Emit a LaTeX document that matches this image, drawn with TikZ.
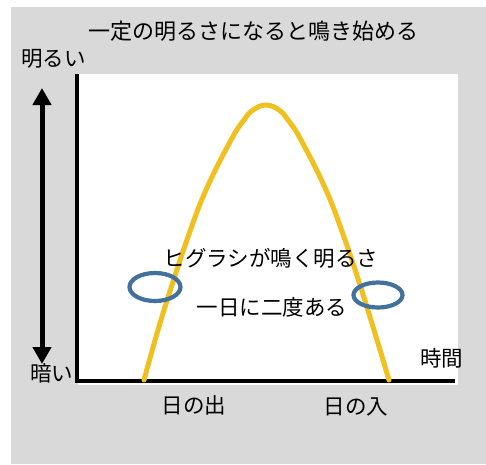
\documentclass[tikz,border=0pt]{standalone}
\usepackage{fontspec}
\setmainfont{Noto Sans CJK JP}
\usetikzlibrary{arrows.meta}
\definecolor{bg}{RGB}{217,217,217}
\definecolor{sun}{RGB}{240,192,32}
\definecolor{ring}{RGB}{65,113,156}
\tikzset{
  lbl/.style={inner sep=0pt, font=\fontsize{21.5}{25}\selectfont, text=black},
  ttl/.style={inner sep=0pt, font=\fontsize{22}{26}\selectfont, text=black},
  axisline/.style={line width=4.5pt, black},
  mark ring/.style={draw=ring, line width=4.2pt},
}
\begin{document}
\begin{tikzpicture}[x=1pt,y=-1pt]
\useasboundingbox (0,0) rectangle (486,464);
\fill[white] (0,0) rectangle (486,464);
\fill[bg] (11,7) rectangle (486,464);
\fill[white] (78,74) rectangle (458,385);
% axes
\coordinate (o) at (77,381);
\coordinate (ytop) at (77,74);
\coordinate (xend) at (455,381);
\draw[axisline] (ytop) -- (o) -- (xend);
% brightness arrow
\coordinate (atop) at (42,88);
\coordinate (abot) at (42,364);
\draw[line width=5pt, {Triangle[width=18pt,length=17pt]}-{Triangle[width=18pt,length=17pt]}] (abot) -- (atop);
% sun curve
\draw[sun, line width=5pt, line cap=round] plot[smooth, tension=0.7] coordinates {
 (144,380) (158,330) (172,285) (188,237) (206,190) (231,140) (244,120) (253,110) (266,105) (279,110) (288,120) (301,140) (326,190) (344,237) (360,285) (374,330) (389,380)};
% rings
\draw[mark ring] (155,287) ellipse [x radius=25.5pt, y radius=14pt];
\draw[mark ring] (378,295) ellipse [x radius=24.5pt, y radius=12.5pt];
% texts
\node[ttl] (title) at (253,31) {一定の明るさになると鳴き始める};
\node[lbl, anchor=west] (bright) at (21,59) {明るい};
\node[lbl, anchor=west] (dark) at (30,373) {暗い};
\node[lbl, anchor=west] (time) at (420,358) {時間};
\node[lbl] (hig) at (271,258) {ヒグラシが鳴く明るさ};
\node[lbl] (twice) at (272,307) {一日に二度ある};
\node[lbl] (rise) at (194,405) {日の出};
\node[lbl] (set) at (356,407) {日の入};
\end{tikzpicture}
\end{document}
